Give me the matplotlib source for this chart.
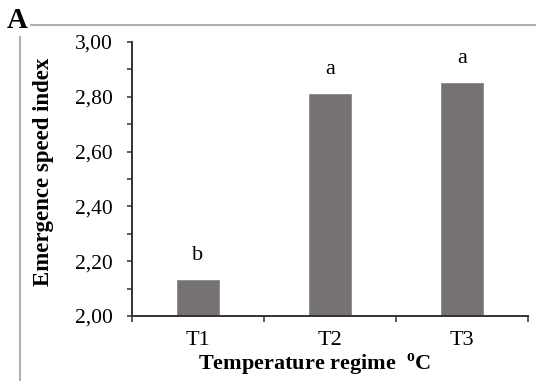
import numpy as np
import matplotlib
matplotlib.use("Agg")
import matplotlib.pyplot as plt
from matplotlib.ticker import MultipleLocator, FixedLocator, NullFormatter

# data
categories = ["T1", "T2", "T3"]
values = [2.13, 2.81, 2.85]
letters = ["b", "a", "a"]
ytick_values = [2.00, 2.20, 2.40, 2.60, 2.80, 3.00]
ytick_labels = ["2,00", "2,20", "2,40", "2,60", "2,80", "3,00"]

plt.rcParams["font.family"] = "Liberation Serif"
plt.rcParams["mathtext.fontset"] = "custom"
plt.rcParams["mathtext.rm"] = "Liberation Serif"
plt.rcParams["mathtext.bf"] = "Liberation Serif:bold"

W, H = 536, 381
fig = plt.figure(figsize=(W / 100, H / 100), dpi=100)

# light grey frame around the panel: only top and left edges are in view
bg = fig.add_axes([20 / W, 0, 1 - 20 / W, 1 - 25 / H])
bg.set_xticks([])
bg.set_yticks([])
bg.patch.set_visible(False)
for side in ["right", "bottom"]:
    bg.spines[side].set_visible(False)
for side in ["top", "left"]:
    bg.spines[side].set_color("#b0b0b0")
    bg.spines[side].set_linewidth(1.5)

ax = fig.add_axes([132 / W, (H - 316) / H, (528 - 132) / W, (316 - 42) / H])

x = np.arange(len(categories))
ax.bar(x, values, width=0.32, bottom=0, color="#767271",
       edgecolor="#8d8988", linewidth=0.6, zorder=2)

ax.set_ylim(2.0, 3.0)
ax.set_xlim(-0.5, len(categories) - 0.5)

for xi, v, lab in zip(x, values, letters):
    ax.annotate(lab, (xi, v), xytext=(0, 25), textcoords="offset pixels",
                ha="center", va="center", fontsize=16)

ax.set_yticks(ytick_values)
ax.set_yticklabels(ytick_labels, fontsize=15.5)
ax.yaxis.set_minor_locator(MultipleLocator(0.1))
ax.tick_params(axis="y", which="both", direction="out", length=3.6, width=1.1,
               color="#333333", pad=10)

ax.xaxis.set_major_locator(FixedLocator([-0.5, 0.5, 1.5, 2.5]))
ax.xaxis.set_major_formatter(NullFormatter())
ax.xaxis.set_minor_locator(FixedLocator(x))
ax.set_xticklabels(categories, minor=True, fontsize=16)
ax.tick_params(axis="x", which="major", direction="out", length=4, width=1.1,
               color="#333333")
ax.tick_params(axis="x", which="minor", length=0, pad=11)

for side in ["top", "right"]:
    ax.spines[side].set_visible(False)
for side in ["left", "bottom"]:
    ax.spines[side].set_linewidth(1.4)
    ax.spines[side].set_color("#333333")

fig.text(44 / W, 1 - 172 / H, "Emergence speed index", rotation=90,
         ha="center", va="center", fontsize=16.5, fontweight="bold")
fig.text(315 / W, 1 - 365 / H, r"Temperature regime  $^{\mathbf{o}}$C",
         ha="center", va="center", fontsize=16, fontweight="bold")
fig.text(17 / W, 1 - 20 / H, "A", ha="center", va="center",
         fontsize=21, fontweight="bold", zorder=6,
         bbox=dict(facecolor="white", edgecolor="none", pad=1.5))

fig.savefig("out.png", dpi=100)
